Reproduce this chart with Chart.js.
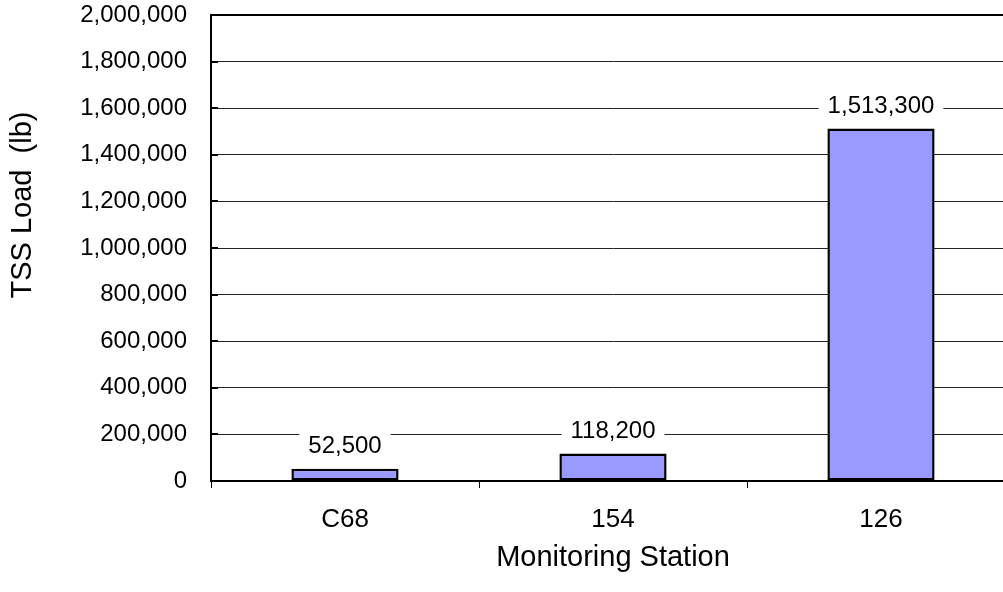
<!DOCTYPE html>
<html>
<head>
<meta charset="utf-8">
<script src="https://cdn.jsdelivr.net/npm/chart.js@4/dist/chart.umd.min.js"></script>
<style>
  html, body { margin: 0; padding: 0; background: #fff; overflow: hidden; }
  #wrap { width: 1015px; height: 592px; }
</style>
</head>
<body>
<div id="wrap"><canvas id="c" width="1015" height="592"></canvas></div>
<script>
// Monitoring stations and their total suspended solids loads (lb)
const stations = ['C68', '154', '126'];
const tssLoad = [52500, 118200, 1513300];
const yTicks = [0, 200000, 400000, 600000, 800000, 1000000, 1200000, 1400000, 1600000, 1800000, 2000000];

const FONT = '"Liberation Sans", Arial, sans-serif';
const fmt = v => v.toLocaleString('en-US');

// Frame pieces: top border line and short inward ticks on the value axis
const framePlugin = {
  id: 'frame',
  afterDraw(chart) {
    const { ctx, chartArea } = chart;
    const y = chart.scales.y;
    ctx.save();
    ctx.strokeStyle = '#000';
    ctx.lineWidth = 2;
    ctx.beginPath();
    ctx.moveTo(chartArea.left - 1, chartArea.top);
    ctx.lineTo(chartArea.right, chartArea.top);
    ctx.stroke();
    yTicks.forEach(v => {
      const py = Math.round(y.getPixelForValue(v));
      ctx.beginPath();
      ctx.moveTo(chartArea.left, py);
      ctx.lineTo(chartArea.left + 7, py);
      ctx.stroke();
    });
    ctx.restore();
  }
};

// Value labels above each bar on a white backing box
const valueLabels = {
  id: 'valueLabels',
  afterDatasetsDraw(chart) {
    const { ctx } = chart;
    const meta = chart.getDatasetMeta(0);
    ctx.save();
    ctx.font = '24px ' + FONT;
    ctx.textAlign = 'center';
    ctx.textBaseline = 'middle';
    meta.data.forEach((bar, i) => {
      const text = fmt(tssLoad[i]);
      const w = ctx.measureText(text).width;
      const cy = bar.y - 23;
      ctx.fillStyle = '#fff';
      ctx.fillRect(bar.x - w / 2 - 9, cy - 13, w + 18, 26);
      ctx.fillStyle = '#000';
      ctx.fillText(text, bar.x, cy + 1);
    });
    ctx.restore();
  }
};

// Axis titles
const axisTitles = {
  id: 'axisTitles',
  afterDraw(chart) {
    const { ctx } = chart;
    ctx.save();
    ctx.fillStyle = '#000';
    ctx.textAlign = 'center';
    ctx.textBaseline = 'middle';
    ctx.font = '29px ' + FONT;
    ctx.fillText('Monitoring Station', chart.scales.x.getPixelForValue(1), 558);
    ctx.translate(23, 205);
    ctx.rotate(-Math.PI / 2);
    ctx.fillText('TSS Load  (lb)', 0, 0);
    ctx.restore();
  }
};

new Chart(document.getElementById('c'), {
  type: 'bar',
  data: {
    labels: stations,
    datasets: [{
      data: tssLoad,
      backgroundColor: '#9999FF',
      borderColor: '#000',
      borderWidth: 2.5,
      borderSkipped: false,
      categoryPercentage: 1,
      barPercentage: 0.4
    }]
  },
  options: {
    responsive: false,
    animation: false,
    layout: { padding: { top: 15, left: 0, right: 0, bottom: 0 } },
    plugins: { legend: { display: false }, tooltip: { enabled: false } },
    scales: {
      x: {
        grid: {
          offset: true,
          drawOnChartArea: false,
          drawTicks: true,
          tickLength: 7,
          tickColor: '#000',
          tickWidth: 1
        },
        border: { display: true, color: '#000', width: 2 },
        ticks: { color: '#000', font: { family: FONT, size: 26 }, padding: 16 },
        afterFit(axis) { axis.height = 111; axis.paddingLeft = 0; axis.paddingRight = 0; }
      },
      y: {
        min: 0,
        max: 2000000,
        afterBuildTicks(axis) { axis.ticks = yTicks.map(v => ({ value: v })); },
        grid: {
          color: '#222',
          lineWidth: 1,
          drawTicks: false,
          borderDash: [1, 1]
        },
        border: { display: true, color: '#000', width: 2 },
        ticks: {
          color: '#000',
          font: { family: FONT, size: 24 },
          padding: 24,
          callback: v => fmt(v)
        },
        afterFit(axis) { axis.width = 211; axis.paddingTop = 0; axis.paddingBottom = 0; }
      }
    }
  },
  plugins: [framePlugin, valueLabels, axisTitles]
});
</script>
</body>
</html>
